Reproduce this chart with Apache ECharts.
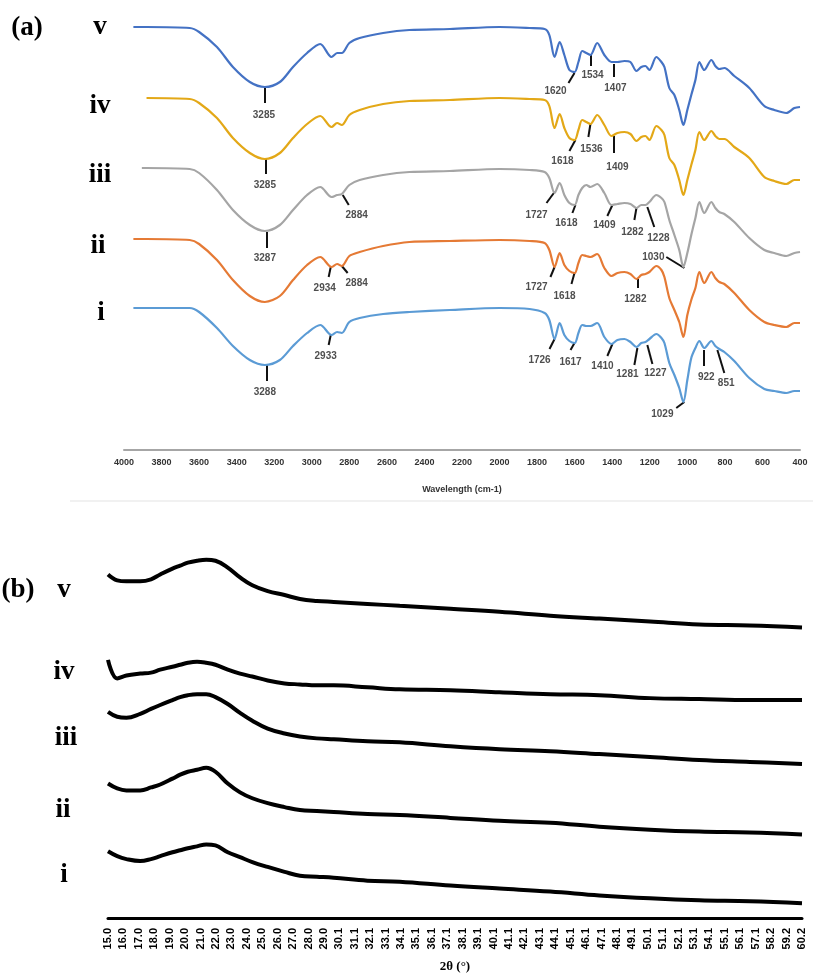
<!DOCTYPE html>
<html lang="en">
<head>
    <meta charset="UTF-8">
    <title>FTIR and XRD</title>
    <script src="https://cdn.jsdelivr.net/npm/echarts/dist/echarts.min.js"></script>
    <style>
        html, body { margin: 0; padding: 0; background: #fff; }
    </style>
</head>
<body>
<div id="mybox" style="height: 974px;width: 813px;"></div>
<script>
    // ---- (a) FTIR spectra (shared wavenumber grid, cm-1) ----
    var ftirWaves = [3950, 3905, 3880, 3650, 3600, 3505, 3420, 3330, 3250, 3170,
        3100, 3025, 2955, 2895, 2865, 2840, 2800, 2745, 2620, 2480,
        2265, 2000, 1840, 1760, 1735, 1707, 1680, 1655, 1628, 1600,
        1580, 1560, 1538, 1516, 1480, 1442, 1404, 1372, 1335, 1303,
        1271, 1245, 1223, 1202, 1165, 1138, 1122, 1096, 1069, 1043,
        1021, 1000, 979, 957, 936, 910, 872, 851, 830, 803,
        750, 670, 590, 537, 473, 430, 400];

    var ftirV = [433, 433, 433, 432, 428, 413, 393, 378, 373, 378,
        393, 407, 416, 403, 407, 407, 417, 422, 427, 430,
        431, 433, 432, 431, 425, 403, 418, 405, 390, 388,
        398, 409, 407, 405, 417, 405, 398, 398, 399, 398,
        389, 393, 394, 390, 403, 398, 393, 372, 365, 350,
        335, 350, 365, 380, 398, 390, 400, 394, 391, 392,
        384, 372, 354, 350, 347, 352, 353];
    var ftirIV = [null, null, 362, 361, 357, 342, 322, 307, 301, 307,
        322, 336, 344, 333, 337, 335, 345, 350, 356, 359,
        360, 362, 361, 360, 354, 332, 346, 332, 322, 320,
        330, 340, 338, 336, 345, 335, 324, 327, 328, 326,
        319, 323, 324, 320, 334, 330, 325, 302, 295, 280,
        265, 280, 295, 310, 328, 320, 329, 324, 321, 321,
        313, 302, 283, 279, 276, 280, 280];
    var ftirIII = [null, 292, 292, 291, 287, 270, 250, 235, 229, 235,
        250, 265, 273, 263, 265, 266, 275, 280, 285, 288,
        289, 291, 290, 288, 282, 267, 277, 265, 257, 255,
        265, 272, 275, 273, 276, 267, 255, 256, 257, 256,
        252, 255, 255, 258, 265, 262, 258, 240, 225, 210,
        193, 207, 225, 242, 258, 247, 258, 252, 248, 246,
        238, 222, 210, 207, 204, 207, 208];
    var ftirII = [221, 221, 221, 220, 216, 200, 180, 164, 158, 164,
        180, 195, 203, 193, 196, 194, 204, 208, 214, 218,
        219, 220, 219, 217, 210, 193, 207, 195, 189, 187,
        197, 205, 204, 203, 206, 192, 184, 187, 188, 186,
        181, 185, 186, 188, 194, 190, 183, 162, 150, 138,
        123, 145, 160, 172, 188, 177, 188, 182, 178, 176,
        167, 150, 138, 135, 133, 137, 137];
    var ftirI = [152, 152, 152, 152, 148, 132, 114, 100, 95, 100,
        114, 127, 135, 125, 128, 127, 138, 142, 146, 148,
        150, 152, 151, 147, 140, 121, 137, 125, 119, 117,
        127, 135, 134, 134, 137, 123, 116, 120, 121, 118,
        113, 117, 118, 121, 126, 122, 117, 97, 85, 72,
        58, 80, 102, 112, 119, 112, 119, 114, 111, 108,
        99, 82, 71, 69, 67, 69, 69];

    // peak labels: [text, curve x, curve y, tick end x, tick end y, label x, label y]
    var peaksV = [
        ['3285', 3250, 373, 3250, 357, 3255, 345],
        ['1620', 1601, 387, 1633, 377, 1702, 369],
        ['1534', 1516, 405, 1516, 394, 1505, 385],
        ['1407', 1394, 396, 1394, 383, 1383, 372]
    ];
    var peaksIV = [
        ['3285', 3245, 301, 3245, 286, 3250, 275],
        ['1618', 1596, 320, 1628, 309, 1665, 299],
        ['1536', 1516, 336, 1527, 323, 1511, 311],
        ['1409', 1394, 324, 1394, 307, 1372, 293]
    ];
    var peaksIII = [
        ['3287', 3239, 228, 3239, 212, 3250, 202],
        ['2884', 2835, 265, 2803, 255, 2761, 245],
        ['1727', 1707, 268, 1750, 257, 1803, 245],
        ['1618', 1596, 255, 1612, 247, 1644, 237],
        ['1409', 1399, 255, 1426, 244, 1442, 235],
        ['1282', 1271, 252, 1282, 240, 1293, 228],
        ['1228', 1213, 253, 1176, 233, 1154, 222],
        ['1030', 1016, 192, 1112, 203, 1181, 203]
    ];
    var peaksII = [
        ['2934', 2899, 193, 2910, 183, 2931, 172],
        ['2884', 2840, 194, 2809, 187, 2761, 177],
        ['1727', 1707, 193, 1729, 183, 1803, 173],
        ['1618', 1601, 187, 1617, 176, 1654, 164],
        ['1282', 1266, 181, 1266, 172, 1277, 161]
    ];
    var peaksI = [
        ['3288', 3239, 95, 3239, 79, 3250, 68],
        ['2933', 2899, 125, 2910, 115, 2926, 104],
        ['1726', 1707, 121, 1734, 111, 1787, 100],
        ['1617', 1601, 117, 1622, 110, 1622, 98],
        ['1410', 1399, 116, 1426, 104, 1452, 94],
        ['1281', 1266, 112, 1282, 95, 1319, 86],
        ['1227', 1213, 115, 1186, 96, 1170, 87],
        ['1029', 1016, 58, 1059, 52, 1133, 46],
        ['922', 915, 110, 915, 94, 899, 83],
        ['851', 840, 110, 803, 87, 793, 77]
    ];

    // ---- (b) XRD patterns ----
    var xrdTicks = ['15.0', '16.0', '17.0', '18.0', '19.0', '20.0', '21.0', '22.0', '23.0', '24.0',
        '25.0', '26.0', '27.0', '28.0', '29.0', '30.1', '31.1', '32.1', '33.1', '34.1',
        '35.1', '36.1', '37.1', '38.1', '39.1', '40.1', '41.1', '42.1', '43.1', '44.1',
        '45.1', '46.1', '47.1', '48.1', '49.1', '50.1', '51.1', '52.1', '53.1', '54.1',
        '55.1', '56.1', '57.1', '58.2', '59.2', '60.2'];
    var xrdAngles = [15.0, 15.6, 16.2, 17.1, 17.8, 18.4, 19.2, 19.7, 20.2, 20.8,
        21.4, 22.0, 22.8, 23.6, 24.4, 25.4, 26.5, 27.5, 28.6, 29.7,
        31.9, 34.0, 37.3, 40.5, 43.8, 47.0, 50.3, 53.5, 56.8, 60.2];
    var xrdV = [350, 344, 343, 343, 345, 350, 356, 359, 362, 364,
        365, 364, 357, 347, 339, 333, 329, 325, 323, 322,
        320, 318, 315, 312, 308, 305, 302, 299, 298, 296];
    var xrdIV = [263, 244, 247, 249, 250, 253, 256, 258, 260, 261,
        260, 258, 253, 249, 246, 242, 239, 238, 237, 237,
        235, 233, 232, 230, 228, 227, 224, 223, 222, 222];
    var xrdIII = [210, 205, 204, 208, 213, 217, 222, 225, 227, 228,
        228, 225, 218, 209, 201, 193, 188, 185, 183, 182,
        180, 179, 175, 172, 170, 167, 164, 161, 159, 157];
    var xrdII = [137, 132, 130, 130, 133, 136, 142, 146, 149, 151,
        153, 149, 137, 128, 122, 117, 113, 110, 109, 108,
        106, 105, 102, 99, 97, 93, 90, 88, 87, 85];
    var xrdI = [68, 63, 60, 58, 60, 63, 67, 69, 71, 73,
        75, 74, 67, 62, 57, 52, 47, 43, 42, 41,
        38, 37, 33, 30, 27, 23, 20, 18, 17, 15];

    function pairs(xs, ys) {
        var out = [];
        for (var i = 0; i < xs.length; i++) {
            out.push([xs[i], ys[i]]);
        }
        return out;
    }

    var allPeaks = peaksV.concat(peaksIV, peaksIII, peaksII, peaksI);
    var tickLines = allPeaks.map(function (p) {
        return { coords: [[p[1], p[2]], [p[3], p[4]]] };
    });
    var tickTexts = allPeaks.map(function (p) {
        return [p[5], p[6], p[0]];
    });

    var ftirCurves = [
        { name: 'v', data: ftirV, color: '#4472c4' },
        { name: 'iv', data: ftirIV, color: '#e3a817' },
        { name: 'iii', data: ftirIII, color: '#a5a5a5' },
        { name: 'ii', data: ftirII, color: '#e57a35' },
        { name: 'i', data: ftirI, color: '#5b9bd5' }
    ];
    var xrdCurves = [
        { name: 'v', data: xrdV },
        { name: 'iv', data: xrdIV },
        { name: 'iii', data: xrdIII },
        { name: 'ii', data: xrdII },
        { name: 'i', data: xrdI }
    ];

    var series = [];
    ftirCurves.forEach(function (c) {
        series.push({
            name: 'FTIR ' + c.name,
            type: 'line',
            xAxisIndex: 0,
            yAxisIndex: 0,
            data: pairs(ftirWaves, c.data),
            showSymbol: false,
            smooth: 0.3,
            lineStyle: { color: c.color, width: 2.2 },
            animation: false
        });
    });
    series.push({
        type: 'lines',
        coordinateSystem: 'cartesian2d',
        xAxisIndex: 0,
        yAxisIndex: 0,
        data: tickLines,
        lineStyle: { color: '#111', width: 2, opacity: 1 },
        animation: false
    });
    series.push({
        type: 'scatter',
        xAxisIndex: 0,
        yAxisIndex: 0,
        data: tickTexts,
        symbolSize: 0,
        label: {
            show: true,
            position: 'inside',
            formatter: function (p) { return p.value[2]; },
            color: '#222',
            fontSize: 10,
            fontWeight: 'bold',
            fontFamily: 'Liberation Sans'
        },
        animation: false
    });
    xrdCurves.forEach(function (c) {
        series.push({
            name: 'XRD ' + c.name,
            type: 'line',
            xAxisIndex: 1,
            yAxisIndex: 1,
            data: pairs(xrdAngles, c.data),
            showSymbol: false,
            smooth: 0.4,
            lineStyle: { color: '#000', width: 4 },
            animation: false
        });
    });

    var serif = '"Liberation Serif", "Times New Roman", serif';
    function tag(text, x, y) {
        return {
            type: 'text', x: x, y: y,
            style: { text: text, font: 'bold 27px ' + serif, fill: '#000', align: 'center', verticalAlign: 'middle' }
        };
    }

    var mychart = echarts.init(document.getElementById('mybox'));
    mychart.setOption({
        backgroundColor: '#fff',
        animation: false,
        grid: [
            { left: 124, right: 13, top: 20, height: 430 },
            { left: 108, right: 11, top: 545, height: 380 }
        ],
        xAxis: [
            {
                gridIndex: 0,
                type: 'value',
                min: 400,
                max: 4000,
                interval: 200,
                inverse: true,
                axisLine: { lineStyle: { color: '#a6a6a6', width: 2 } },
                axisTick: { show: false },
                splitLine: { show: false },
                axisLabel: {
                    margin: 8, color: '#333', fontSize: 9, fontWeight: 'bold', fontFamily: 'Liberation Sans',
                    formatter: function (v) { return String(v); }
                },
                name: 'Wavelength (cm-1)',
                nameLocation: 'middle',
                nameGap: 35,
                nameTextStyle: { color: '#333', fontSize: 9, fontWeight: 'bold', fontFamily: 'Liberation Sans' }
            },
            {
                gridIndex: 1,
                type: 'value',
                min: 15,
                max: 60.2,
                show: false
            },
            {
                gridIndex: 1,
                type: 'category',
                data: xrdTicks,
                boundaryGap: false,
                position: 'bottom',
                axisLine: { lineStyle: { color: '#000', width: 3 } },
                axisTick: { show: false },
                splitLine: { show: false },
                axisLabel: { interval: 0, rotate: 90, margin: 10, color: '#000', fontSize: 11, fontWeight: 'bold', fontFamily: 'Liberation Sans' },
                name: '2θ (°)',
                nameLocation: 'middle',
                nameGap: 42,
                nameTextStyle: { color: '#000', fontSize: 13, fontWeight: 'bold', fontFamily: serif }
            }
        ],
        yAxis: [
            { gridIndex: 0, type: 'value', min: 10, max: 440, show: false },
            { gridIndex: 1, type: 'value', min: 0, max: 380, show: false }
        ],
        graphic: [
            tag('(a)', 27, 28),
            tag('v', 100, 27),
            tag('iv', 100, 106),
            tag('iii', 100, 175),
            tag('ii', 98, 246),
            tag('i', 101, 313),
            tag('(b)', 18, 590),
            tag('v', 64, 590),
            tag('iv', 64, 672),
            tag('iii', 66, 738),
            tag('ii', 63, 810),
            tag('i', 64, 875),
            {
                type: 'line',
                shape: { x1: 70, y1: 501, x2: 813, y2: 501 },
                style: { stroke: '#e3e3e3', lineWidth: 1 }
            }
        ],
        series: series
    });
</script>
</body>
</html>
